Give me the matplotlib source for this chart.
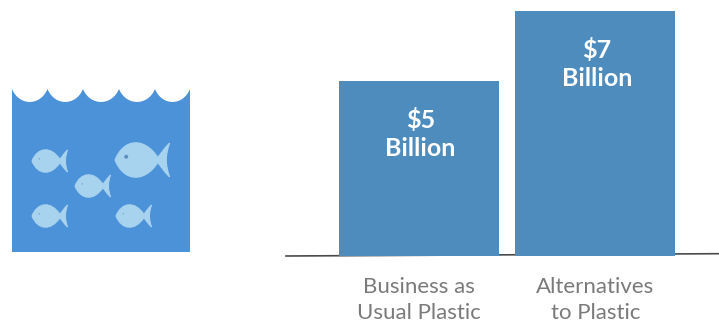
import matplotlib
matplotlib.use("Agg")
import matplotlib.pyplot as plt
from matplotlib.patches import PathPatch, Circle
from matplotlib.path import Path

categories = ["Business as\nUsual Plastic", "Alternatives\nto Plastic"]
values = [5, 7]

# icon layout, in figure pixels: nose x, centre y, body length, eye radius
fish_list = [(32, 161, 28, 0.6), (75, 186, 28, 0.6), (32, 216, 28, 0.6), (116, 216, 28, 0.6), (115, 160, 43, 2.0)]
wave_cusps = [12, 47.5, 83, 119, 155, 190]

plt.rcParams["font.family"] = ["Lato", "DejaVu Sans"]

W, H = 719, 325
fig = plt.figure(figsize=(W / 100, H / 100), dpi=100)


def draw_fish(ax, x0, yc, L, eye):
    # rounded body with a crescent tail on the right
    h = L * 0.76
    x1 = x0 + L
    t = L * 0.27
    verts = [
        (x0, yc),
        (x0 + L * 0.2, yc - h * 0.66), (x0 + L * 0.68, yc - h * 0.72), (x1, yc - h * 0.07),
        (x1 + t * 0.1, yc - h * 0.14), (x1 + t * 0.45, yc - h * 0.32), (x1 + t, yc - h * 0.52),
        (x1 + t * 0.62, yc - h * 0.14), (x1 + t * 0.62, yc + h * 0.14), (x1 + t, yc + h * 0.52),
        (x1 + t * 0.45, yc + h * 0.32), (x1 + t * 0.1, yc + h * 0.14), (x1, yc + h * 0.07),
        (x0 + L * 0.68, yc + h * 0.72), (x0 + L * 0.2, yc + h * 0.66), (x0, yc),
    ]
    codes = [Path.MOVETO] + [Path.CURVE4] * 15
    ax.add_patch(PathPatch(Path(verts, codes), fc="#a8d3ee", ec="#a8d3ee", lw=0.8))
    ax.add_patch(Circle((x0 + L * 0.26, yc - h * 0.1), eye, fc="#5f8fc0", ec="none"))


# water icon on the left
icon = fig.add_axes([0, 0, 1, 1])
icon.set_xlim(0, W)
icon.set_ylim(H, 0)
icon.axis("off")

top, depth, bottom = 89, 13, 252
verts = [(wave_cusps[0], bottom), (wave_cusps[0], top)]
codes = [Path.MOVETO, Path.LINETO]
for a, b in zip(wave_cusps[:-1], wave_cusps[1:]):
    w = b - a
    verts += [(a + w * 0.2, top + depth * 1.33), (b - w * 0.2, top + depth * 1.33), (b, top)]
    codes += [Path.CURVE4] * 3
verts += [(wave_cusps[-1], bottom), (wave_cusps[0], bottom)]
codes += [Path.LINETO, Path.CLOSEPOLY]
icon.add_patch(PathPatch(Path(verts, codes), fc="#4c92d8", ec="none"))
for x0, yc, L, eye in fish_list:
    draw_fish(icon, x0, yc, L, eye)

# bars on the right
ax = fig.add_axes([286 / W, (H - 256) / H, 433 / W, 256 / H])
ax.patch.set_alpha(0)
ax.set_xlim(-0.7535, 1.70)
ax.set_ylim(0, 256 / 35)
bars = ax.bar(range(len(values)), values, width=0.907, color="#4e8cbd", zorder=3)
for bar, v in zip(bars, values):
    ax.annotate(f"${v}\nBillion", (bar.get_x() + bar.get_width() / 2, v),
                xytext=(1, -19.5), textcoords="offset points", ha="center", va="top",
                color="white", fontsize=18, fontweight="bold", linespacing=1.28, zorder=4)

# the base line runs slightly uphill
ax.plot([0, 1], [0, 0.009], transform=ax.transAxes, color="#4a4a4a", lw=1.2,
        clip_on=False, zorder=2)

for s in ax.spines.values():
    s.set_visible(False)
ax.set_yticks([])
ax.set_xticks(range(len(categories)))
ax.set_xticklabels(categories, fontsize=16, color="#7a7a7a", linespacing=1.4)
ax.tick_params(axis="x", length=0, pad=15)

fig.savefig("out.png", dpi=100)
